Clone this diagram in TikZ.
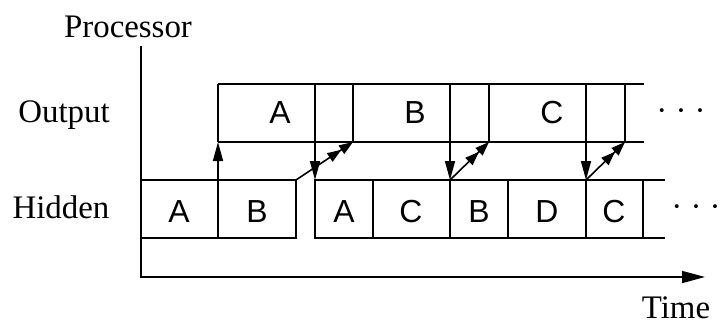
\documentclass[tikz,border=0pt]{standalone}
\usepackage{fontspec}
\setmainfont{Liberation Serif}
\newfontfamily\cellfont{Liberation Sans}
\usetikzlibrary{arrows.meta}
\begin{document}
\begin{tikzpicture}[x=1bp,y=-1bp,
  line width=1.6bp,
  lbl/.style={font=\fontsize{33}{36}\selectfont, inner sep=0, anchor=base},
  cellt/.style={font=\cellfont\fontsize{32}{36}\selectfont, inner sep=0, anchor=base},
  vtip/.style={-{Triangle[length=19bp,width=10bp]}},
  dtip/.style={-{Triangle[length=14bp,width=10bp]Triangle[length=14bp,width=10bp]}},
  axtip/.style={-{Triangle[length=23bp,width=12bp]}}
  ]
\useasboundingbox (0,0) rectangle (720,326);

% axes
\coordinate (top) at (141,46);
\coordinate (origin) at (141,277);
\coordinate (tend) at (705,277);
\draw[axtip] (top) -- (origin) -- (tend);

% axis and row labels
\node[lbl] (proc) at (128,37) {Processor};
\node[lbl] (time) at (676,318) {Time};
\node[lbl] (outl) at (64,122) {Output};
\node[lbl] (hidl) at (61,218) {Hidden};

% output row
\draw (218,84) -- (644,84);
\draw (218,142) -- (644,142);
\foreach \x in {218,353,489,625} \draw (\x,84) -- (\x,142);
\node[cellt] (oA) at (280,123) {A};
\node[cellt] (oB) at (415,123) {B};
\node[cellt] (oC) at (552,123) {C};
\node[lbl] (odots) at (681,121) {· · ·};

% hidden row
\draw (141,180) -- (296,180) -- (296,238) -- (141,238);
\draw (218,180) -- (218,238);
\draw (665,180) -- (315,180) -- (315,238) -- (665,238);
\foreach \x in {373,450,508,586,643} \draw (\x,180) -- (\x,238);
\node[cellt] (hA1) at (179,222) {A};
\node[cellt] (hB1) at (257,222) {B};
\node[cellt] (hA2) at (344,222) {A};
\node[cellt] (hC1) at (411,222) {C};
\node[cellt] (hB2) at (479,222) {B};
\node[cellt] (hD)  at (547,222) {D};
\node[cellt] (hC2) at (614,222) {C};
\node[lbl] (hdots) at (696,217) {· · ·};

% transfers between the rows
\coordinate (o0) at (218,142);
\coordinate (h0) at (218,180);
\draw[vtip] (h0) -- (o0);
\foreach \a/\b in {315/1,450/2,586/3}{
  \coordinate (od\b) at (\a,84);
  \coordinate (hd\b) at (\a,180);
  \draw[vtip] (od\b) -- (hd\b);
}
\coordinate (hs1) at (296,180);
\coordinate (hs2) at (450,180);
\coordinate (hs3) at (586,180);
\coordinate (oe1) at (353,142);
\coordinate (oe2) at (489,142);
\coordinate (oe3) at (625,142);
\foreach \i in {1,2,3} \draw[dtip] (hs\i) -- (oe\i);
\end{tikzpicture}
\end{document}
